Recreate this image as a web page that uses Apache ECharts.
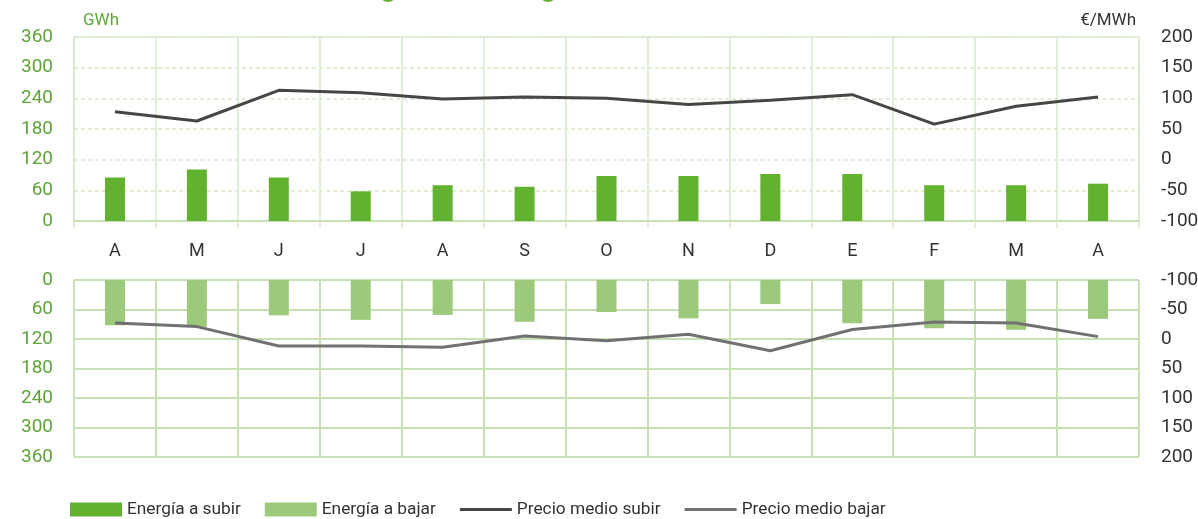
<!DOCTYPE html>
<html>
<head>
<meta charset="utf-8">
<script src="https://cdn.jsdelivr.net/npm/echarts@6/dist/echarts.min.js"></script>
<style>
  html, body { margin: 0; padding: 0; background: #ffffff; }
  #chart { width: 1198px; height: 519px; }
</style>
</head>
<body>
<div id="chart"></div>
<script>
// Months from April to April
const months = ['A', 'M', 'J', 'J', 'A', 'S', 'O', 'N', 'D', 'E', 'F', 'M', 'A'];

// Energy (GWh)
const energiaSubir = [85, 101, 85, 58, 70, 67, 88, 88, 92, 92, 70, 70, 73];
const energiaBajar = [92, 95, 72, 81, 71, 85, 65, 78, 49, 88, 98, 101, 79];

// Average prices (€/MWh)
const precioSubir = [78, 63, 113, 109, 99, 102, 100, 90, 97, 106, 58, 87, 102];
const precioBajar = [-27, -21, 12, 12, 14, -5, 3, -8, 20, -16, -29, -27, -4];

// Axis ticks
const energyTicks = { min: 0, max: 360, interval: 60 };
const priceTicks = { min: -100, max: 200, interval: 50 };

const FONT = 'Roboto, "Liberation Sans", sans-serif';
const GREEN_DARK = '#63b22f';
const GREEN_LIGHT = '#9cc97b';
const GRID_LIGHT = '#d8eacb';
const GRID_MID = '#c7e1b4';
const LABEL_GREEN = '#5fa53a';
const LABEL_DARK = '#333333';
const LINE_SUBIR = '#464646';
const LINE_BAJAR = '#717171';

// thin horizontal bar used as the legend icon of the price lines
const LINE_ICON = 'path://M0,0 L54,0 L54,3 L0,3 Z';

const chart = echarts.init(document.getElementById('chart'), null, { renderer: 'canvas' });

const leftLabel = { color: LABEL_GREEN, fontFamily: FONT, fontSize: 19, margin: 21 };
const rightLabel = { color: LABEL_DARK, fontFamily: FONT, fontSize: 19, margin: 22, align: 'left' };

chart.setOption({
  animation: false,
  backgroundColor: '#ffffff',
  graphic: [
    { type: 'circle', shape: { cx: 388, cy: -7, r: 9 }, style: { fill: GREEN_DARK } },
    { type: 'circle', shape: { cx: 548, cy: -7, r: 9 }, style: { fill: GREEN_DARK } },
    { type: 'text', left: 83, top: 12, style: { text: 'GWh', fill: LABEL_GREEN, font: '17px ' + FONT } },
    { type: 'text', right: 62, top: 12, style: { text: '€/MWh', fill: LABEL_DARK, font: '17px ' + FONT } }
  ],
  grid: [
    { left: 74, right: 59, top: 37, height: 184, outerBoundsMode: 'none', show: true, borderColor: GRID_LIGHT, borderWidth: 1.5, backgroundColor: 'transparent' },
    { left: 74, right: 59, top: 280, height: 177, outerBoundsMode: 'none' }
  ],
  legend: {
    left: 70,
    top: 501,
    padding: 0,
    itemWidth: 52,
    itemHeight: 14,
    itemGap: 24,
    textStyle: { color: LABEL_DARK, fontFamily: FONT, fontSize: 17.3 },
    data: [
      { name: 'Energía a subir', icon: 'rect' },
      { name: 'Energía a bajar', icon: 'rect' },
      { name: 'Precio medio subir', icon: LINE_ICON },
      { name: 'Precio medio bajar', icon: LINE_ICON }
    ]
  },
  xAxis: [
    {
      type: 'category', gridIndex: 0, data: months,
      axisLine: { show: true, lineStyle: { color: GRID_MID, width: 2 } },
      axisTick: { show: true, length: 7, lineStyle: { color: GRID_LIGHT, width: 1.5 } },
      axisLabel: { color: LABEL_DARK, fontFamily: FONT, fontSize: 18, margin: 21 },
      splitLine: { show: true, lineStyle: { color: GRID_LIGHT, width: 1.5 } }
    },
    {
      type: 'category', gridIndex: 1, data: months,
      axisLine: { show: false }, axisTick: { show: false }, axisLabel: { show: false },
      splitLine: { show: true, lineStyle: { color: GRID_MID, width: 2 } }
    }
  ],
  yAxis: [
    {
      type: 'value', gridIndex: 0, position: 'left', ...energyTicks,
      axisLine: { show: false }, axisTick: { show: false }, axisLabel: leftLabel,
      splitLine: { show: true, lineStyle: { color: GRID_LIGHT, width: 1.5, type: [4, 3] } }
    },
    {
      type: 'value', gridIndex: 0, position: 'right', ...priceTicks,
      axisLine: { show: false }, axisTick: { show: false }, axisLabel: rightLabel,
      splitLine: { show: false }
    },
    {
      type: 'value', gridIndex: 1, position: 'left', inverse: true, ...energyTicks,
      axisLine: { show: false }, axisTick: { show: false }, axisLabel: leftLabel,
      splitLine: { show: true, lineStyle: { color: GRID_MID, width: 2 } }
    },
    {
      type: 'value', gridIndex: 1, position: 'right', inverse: true, ...priceTicks,
      axisLine: { show: false }, axisTick: { show: false }, axisLabel: rightLabel,
      splitLine: { show: false }
    }
  ],
  series: [
    {
      name: 'Energía a subir', type: 'bar', xAxisIndex: 0, yAxisIndex: 0,
      data: energiaSubir, barWidth: 20, itemStyle: { color: GREEN_DARK }
    },
    {
      name: 'Energía a bajar', type: 'bar', xAxisIndex: 1, yAxisIndex: 2,
      data: energiaBajar, barWidth: 20, itemStyle: { color: GREEN_LIGHT }
    },
    {
      name: 'Precio medio subir', type: 'line', xAxisIndex: 0, yAxisIndex: 1,
      data: precioSubir, symbol: 'none', z: 5,
      lineStyle: { color: LINE_SUBIR, width: 3 }, itemStyle: { color: LINE_SUBIR }
    },
    {
      name: 'Precio medio bajar', type: 'line', xAxisIndex: 1, yAxisIndex: 3,
      data: precioBajar, symbol: 'none', z: 5,
      lineStyle: { color: LINE_BAJAR, width: 3 }, itemStyle: { color: LINE_BAJAR }
    }
  ]
});
</script>
</body>
</html>
